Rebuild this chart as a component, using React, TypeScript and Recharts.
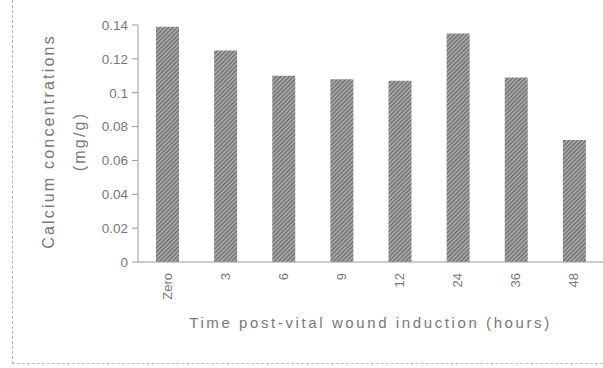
import React from "react";
import { BarChart, Bar, XAxis, YAxis, Label } from "recharts";

const categories = ["Zero", "3", "6", "9", "12", "24", "36", "48"];
const calcium = [0.139, 0.125, 0.11, 0.108, 0.107, 0.135, 0.109, 0.072];
const yTicks = [0, 0.02, 0.04, 0.06, 0.08, 0.1, 0.12, 0.14];
const yTickLabels = ["0", "0.02", "0.04", "0.06", "0.08", "0.1", "0.12", "0.14"];

const data = categories.map((c, i) => ({ time: c, calcium: calcium[i] }));

const TEXT = "#787878";
const AXIS = "#9a9a9a";
const FONT = "'Liberation Sans', Arial, sans-serif";

const YLabel = (props: any) => {
  const vb = props.viewBox || { x: 0, y: 25, width: 138, height: 237 };
  const cy = vb.y + vb.height / 2 - 2;
  const x1 = 48;
  const x2 = 79;
  return (
    <g>
      <text
        x={x1}
        y={cy}
        transform={`rotate(-90, ${x1}, ${cy})`}
        textAnchor="middle"
        dominantBaseline="central"
        fill={TEXT}
        fontSize={16}
        fontFamily={FONT}
        letterSpacing={2.2}
      >
        Calcium concentrations
      </text>
      <text
        x={x2}
        y={cy}
        transform={`rotate(-90, ${x2}, ${cy})`}
        textAnchor="middle"
        dominantBaseline="central"
        fill={TEXT}
        fontSize={16}
        fontFamily={FONT}
        letterSpacing={2.2}
      >
        (mg/g)
      </text>
    </g>
  );
};

const XTick = (props: any) => {
  const { x, y, payload } = props;
  return (
    <text
      x={x}
      y={y + 3}
      transform={`rotate(-90, ${x}, ${y + 3})`}
      textAnchor="end"
      dominantBaseline="central"
      fill={TEXT}
      fontSize={13}
      fontFamily={FONT}
    >
      {payload.value}
    </text>
  );
};

export default function App() {
  return (
    <div
      style={{
        position: "absolute",
        left: 0,
        top: 0,
        width: 603,
        height: 368,
        background: "#fff",
        overflow: "hidden",
      }}
    >
      <div
        style={{
          position: "absolute",
          left: 12,
          top: 0,
          width: 600,
          height: 363,
          borderLeft: "1px dashed #b5b5b5",
          borderBottom: "1px dashed #c0c0c0",
        }}
      />
      <BarChart
        width={603}
        height={368}
        data={data}
        margin={{ top: 25, right: 0, left: 0, bottom: 0 }}
        barSize={23}
      >
        <defs>
          <pattern id="hatch" width="3" height="3" patternUnits="userSpaceOnUse" patternTransform="rotate(45)">
            <rect width="3" height="3" fill="#b0b0b0" />
            <rect width="1.4" height="3" fill="#6a6a6a" />
          </pattern>
        </defs>
        <XAxis
          dataKey="time"
          height={106}
          tick={<XTick />}
          tickLine={false}
          interval={0}
          axisLine={{ stroke: AXIS }}
        >
          <Label
            value="Time post-vital wound induction (hours)"
            position="insideBottom"
            offset={40}
            fill={TEXT}
            fontSize={15}
            fontFamily={FONT}
            letterSpacing={2.6}
          />
        </XAxis>
        <YAxis
          width={138}
          domain={[0, 0.14]}
          ticks={yTicks}
          tickFormatter={(v: number) => yTickLabels[yTicks.indexOf(v)] ?? String(v)}
          tick={{ fill: TEXT, fontSize: 13.5, fontFamily: FONT }}
          tickLine={{ stroke: AXIS }}
          axisLine={{ stroke: AXIS }}
          tickMargin={4}
          interval={0}
          label={<YLabel />}
        />
        <Bar dataKey="calcium" fill="url(#hatch)" isAnimationActive={false} />
      </BarChart>
    </div>
  );
}
